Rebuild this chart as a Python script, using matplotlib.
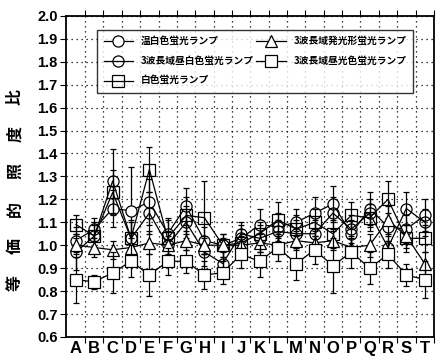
import numpy as np
import matplotlib
matplotlib.use("Agg")
import matplotlib.pyplot as plt
from matplotlib.ticker import FixedLocator, MultipleLocator

plt.rcParams['font.family'] = ['Noto Sans CJK JP', 'DejaVu Sans']

cats = list("ABCDEFGHIJKLMNOPQRST")

# 温白色蛍光ランプ
warm = [1.02, 1.07, 1.16, 1.15, 1.19, 1.05, 1.17, 1.02, 1.00, 1.03,
        1.09, 1.08, 1.10, 1.14, 1.18, 1.05, 1.16, 1.08, 1.07, 1.13]
warm_err = [0.06, 0.05, 0.08, 0.19, 0.10, 0.07, 0.08, 0.06, 0.05, 0.06,
            0.07, 0.06, 0.06, 0.07, 0.08, 0.06, 0.07, 0.06, 0.06, 0.07]

# 3波長域昼白色蛍光ランプ
neutral3 = [0.97, 1.04, 1.28, 1.03, 1.14, 1.00, 1.10, 0.97, 0.92, 1.05,
            1.03, 1.06, 1.05, 1.05, 1.14, 1.07, 1.14, 0.99, 1.16, 1.10]
neutral3_err = [0.08, 0.06, 0.14, 0.08, 0.09, 0.06, 0.07, 0.06, 0.06, 0.05,
                0.06, 0.05, 0.06, 0.06, 0.07, 0.06, 0.06, 0.05, 0.07, 0.06]

# 白色蛍光ランプ
white = [1.09, 1.04, 1.23, 1.03, 1.33, 1.03, 1.13, 1.12, 1.00, 1.01,
         1.05, 1.11, 1.07, 1.10, 1.05, 1.13, 1.12, 1.20, 1.03, 1.03]
white_err = [0.04, 0.05, 0.10, 0.07, 0.10, 0.08, 0.08, 0.16, 0.05, 0.06,
             0.05, 0.08, 0.06, 0.06, 0.06, 0.06, 0.06, 0.08, 0.06, 0.06]

# 3波長域発光形蛍光ランプ
band3 = [1.00, 0.99, 0.98, 0.99, 1.01, 1.00, 1.02, 1.00, 1.00, 1.00,
         1.01, 1.00, 1.02, 1.01, 1.02, 0.99, 1.00, 1.11, 1.04, 0.92]
band3_err = [0.03, 0.04, 0.04, 0.04, 0.05, 0.04, 0.04, 0.04, 0.03, 0.04,
             0.04, 0.04, 0.04, 0.05, 0.04, 0.04, 0.05, 0.06, 0.05, 0.05]

# 3波長域昼光色蛍光ランプ
day3 = [0.85, 0.84, 0.88, 0.93, 0.87, 0.93, 0.93, 0.87, 0.88, 0.96,
        0.93, 0.99, 0.92, 0.98, 0.91, 0.97, 0.90, 0.96, 0.87, 0.85]
day3_err = [0.10, 0.03, 0.09, 0.07, 0.09, 0.06, 0.05, 0.06, 0.05, 0.06,
            0.07, 0.06, 0.07, 0.06, 0.12, 0.07, 0.07, 0.06, 0.05, 0.08]

series = [
    ("温白色蛍光ランプ", warm, warm_err, "o", "white"),
    ("3波長域昼白色蛍光ランプ", neutral3, neutral3_err, "o", "none"),
    ("白色蛍光ランプ", white, white_err, "s", "none"),
    ("3波長域発光形蛍光ランプ", band3, band3_err, "^", "white"),
    ("3波長域昼光色蛍光ランプ", day3, day3_err, "s", "white"),
]

fig = plt.figure(figsize=(4.45, 3.6), dpi=100)
ax = fig.add_axes([0.148, 0.064, 0.827, 0.892])

x = np.arange(len(cats))
for name, y, e, m, fc in series:
    # error bars first, then the line with markers on top
    ax.errorbar(x, y, yerr=e, fmt="none", ecolor="black", elinewidth=0.9,
                capsize=2.5, capthick=0.9)
    ax.plot(x, y, color="black", lw=0.9, marker=m, markersize=8,
            markerfacecolor=fc, markeredgecolor="black",
            markeredgewidth=0.9, label=name)

ax.set_xlim(-0.55, 19.5)
ax.set_ylim(0.6, 2.0)

ax.set_xticks(x)
ax.set_xticklabels(cats, fontsize=12, fontweight="bold",
                   family=["Liberation Sans", "DejaVu Sans"])
ax.xaxis.set_minor_locator(FixedLocator(np.arange(len(cats)) + 0.5))
ax.tick_params(axis="x", which="major", length=0, pad=3)
ax.tick_params(axis="x", which="minor", length=4, direction="out",
               top=True, width=0.8)

ax.yaxis.set_major_locator(MultipleLocator(0.1))
ax.set_yticklabels([f"{v:.1f}" for v in ax.get_yticks()], fontsize=10.5,
                   fontweight="bold", family=["Liberation Sans", "DejaVu Sans"])
ax.tick_params(axis="y", which="major", length=4, width=0.8, pad=2)

ax.grid(True, axis="y", which="major", color="black", linestyle=(0, (1, 3)), lw=0.9)
ax.grid(True, axis="x", which="minor", color="black", linestyle=(0, (1, 3)), lw=0.9)
for s in ax.spines.values():
    s.set_linewidth(1.3)

ylab = "等価的照度比"
ys = np.linspace(77, 263, len(ylab)) / 360
for ch, yy in zip(ylab, ys):
    fig.text(15 / 445, yy, ch, rotation=90, fontsize=11.5, fontweight="bold",
             ha="center", va="center")

leg = ax.legend(ncol=2, loc="upper left",
                bbox_to_anchor=(0.071, 0.769, 0.886, 0.203), mode="expand",
                frameon=True, fancybox=False, edgecolor="black",
                handlelength=3.0, labelspacing=1.0, borderpad=0.7,
                columnspacing=1.0, handletextpad=0.8,
                prop={"weight": "bold", "size": 7})
leg.get_frame().set_linewidth(1.0)

fig.savefig("out.png", dpi=100)
